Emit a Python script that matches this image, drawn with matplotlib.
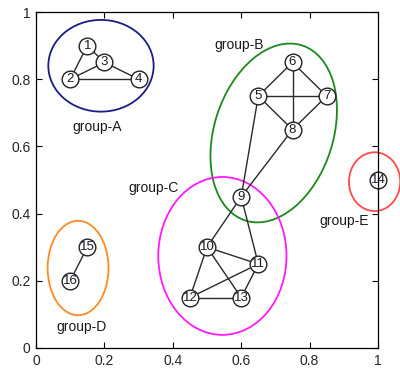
import numpy as np
import matplotlib
matplotlib.use('Agg')
import matplotlib.pyplot as plt
from matplotlib.patches import Ellipse

plt.rcParams['font.family'] = ['Liberation Sans', 'DejaVu Sans']

# 节点坐标
node_ids = [1, 2, 3, 4, 5, 6, 7, 8, 9, 10, 11, 12, 13, 14, 15, 16]
node_x = [0.15, 0.10, 0.20, 0.30, 0.65, 0.75, 0.85, 0.75, 0.60, 0.50, 0.65, 0.45, 0.60, 1.00, 0.15, 0.10]
node_y = [0.90, 0.80, 0.85, 0.80, 0.75, 0.85, 0.75, 0.65, 0.45, 0.30, 0.25, 0.15, 0.15, 0.50, 0.30, 0.20]

# 连边
edges = [(1, 2), (1, 3), (2, 3), (2, 4), (3, 4),
         (5, 6), (6, 7), (7, 8), (8, 5), (5, 7), (6, 8),
         (5, 9), (8, 9),
         (9, 10), (9, 11), (10, 11), (10, 12), (10, 13), (12, 11), (12, 13), (13, 11),
         (15, 16)]

# 分组
group_names = ['group-A', 'group-B', 'group-C', 'group-D', 'group-E']
group_cx = [0.19, 0.695, 0.545, 0.123, 0.99]
group_cy = [0.84, 0.64, 0.274, 0.238, 0.495]
group_w = [0.308, 0.547, 0.375, 0.178, 0.15]
group_h = [0.273, 0.348, 0.47, 0.281, 0.175]
group_angle = [0, 72.7, 0, 0, 0]
group_colors = ['#1c1c85', '#1a8a1a', '#ff1aff', '#ff8a1f', '#ff4a4a']
label_x = [0.178, 0.593, 0.344, 0.134, 0.90]
label_y = [0.659, 0.902, 0.475, 0.063, 0.379]

xticks = [0, 0.2, 0.4, 0.6, 0.8, 1]
yticks = [0, 0.2, 0.4, 0.6, 0.8, 1]
tick_labels = ['0', '0.2', '0.4', '0.6', '0.8', '1']

fig = plt.figure(figsize=(4, 3.7), dpi=100)
ax = fig.add_axes([0.09, 0.0595, 0.855, 0.908])

# 画椭圆
for i in range(len(group_names)):
    e = Ellipse((group_cx[i], group_cy[i]), group_w[i], group_h[i], angle=group_angle[i],
                fill=False, edgecolor=group_colors[i], linewidth=1.3, clip_on=False, zorder=1)
    ax.add_patch(e)
    ax.text(label_x[i], label_y[i], group_names[i], fontsize=10, ha='center', va='center',
            color='#1a1a1a', zorder=5)

# 画边
for a, b in edges:
    ia = node_ids.index(a)
    ib = node_ids.index(b)
    ax.plot([node_x[ia], node_x[ib]], [node_y[ia], node_y[ib]], color='#2a2a2a',
            linewidth=1.0, zorder=2, clip_on=False)

# 画节点
ax.plot(node_x, node_y, 'o', markersize=12, markerfacecolor='white', markeredgecolor='#222222',
        markeredgewidth=1.0, linestyle='none', zorder=3, clip_on=False)
for i in range(len(node_ids)):
    ax.text(node_x[i], node_y[i], str(node_ids[i]), fontsize=9.5, ha='center', va='center',
            color='#1a1a2a', zorder=4)

ax.set_xlim(0, 1)
ax.set_ylim(0, 1)
ax.set_xticks(xticks)
ax.set_xticklabels(tick_labels)
ax.set_yticks(yticks)
ax.set_yticklabels(tick_labels)
ax.tick_params(direction='in', top=True, right=True, length=4, width=0.8,
               labelsize=10, labelcolor='#262626', pad=4)
for s in ax.spines.values():
    s.set_linewidth(0.9)
    s.set_zorder(6)

plt.savefig('out.png', dpi=100)
